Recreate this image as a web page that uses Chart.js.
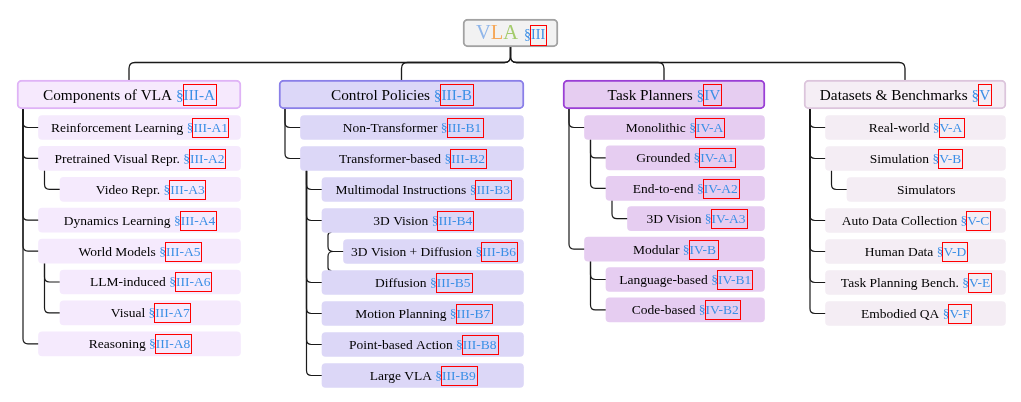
<!DOCTYPE html>
<html>
<head>
<meta charset="utf-8">
<script src="https://cdn.jsdelivr.net/npm/chart.js@4.4.1/dist/chart.umd.min.js"></script>
<style>
  html, body { margin: 0; padding: 0; background: #fff; }
  #wrap { width: 1021px; height: 402px; position: relative; }
</style>
</head>
<body>
<div id="wrap"><canvas id="taxonomy"></canvas></div>
<script>
// tree content
const rootLetters = ['V', 'L', 'A'];
const rootRef = 'III';

const branchLabels = ['Components of VLA', 'Control Policies', 'Task Planners', 'Datasets & Benchmarks'];
const branchRefs = ['III-A', 'III-B', 'IV', 'V'];

const componentLabels = ['Reinforcement Learning', 'Pretrained Visual Repr.', 'Video Repr.', 'Dynamics Learning',
  'World Models', 'LLM-induced', 'Visual', 'Reasoning'];
const componentRefs = ['III-A1', 'III-A2', 'III-A3', 'III-A4', 'III-A5', 'III-A6', 'III-A7', 'III-A8'];
const componentDepths = [1, 1, 2, 1, 1, 2, 2, 1];

const policyLabels = ['Non-Transformer', 'Transformer-based', 'Multimodal Instructions', '3D Vision',
  '3D Vision + Diffusion', 'Diffusion', 'Motion Planning', 'Point-based Action', 'Large VLA'];
const policyRefs = ['III-B1', 'III-B2', 'III-B3', 'III-B4', 'III-B6', 'III-B5', 'III-B7', 'III-B8', 'III-B9'];
const policyDepths = [1, 1, 2, 2, 3, 2, 2, 2, 2];

const plannerLabels = ['Monolithic', 'Grounded', 'End-to-end', '3D Vision', 'Modular', 'Language-based', 'Code-based'];
const plannerRefs = ['IV-A', 'IV-A1', 'IV-A2', 'IV-A3', 'IV-B', 'IV-B1', 'IV-B2'];
const plannerDepths = [1, 2, 2, 3, 1, 2, 2];

const datasetLabels = ['Real-world', 'Simulation', 'Simulators', 'Auto Data Collection', 'Human Data',
  'Task Planning Bench.', 'Embodied QA'];
const datasetRefs = ['V-A', 'V-B', '', 'V-C', 'V-D', 'V-E', 'V-F'];
const datasetDepths = [1, 1, 2, 1, 1, 1, 1];

// nodes that hang off both the node above and the node below (brace)
const braceNodes = [[], [4], [], []];

const columns = [
  { labels: componentLabels, refs: componentRefs, depths: componentDepths },
  { labels: policyLabels, refs: policyRefs, depths: policyDepths },
  { labels: plannerLabels, refs: plannerRefs, depths: plannerDepths },
  { labels: datasetLabels, refs: datasetRefs, depths: datasetDepths }
];

// layout
const columnLeft = [17, 279, 563, 804];
const columnRight = [241, 524, 765, 1006];
const rowPitch = [30.9, 31, 30.4, 31];
const rootSpan = [463, 558];
const rootY = 33;
const busY = 62.5;
const branchY = 94.5;
const firstRowY = 127.5;
const indent = 21.5;

// styles
const rootLetterColors = ['#8fb6ea', '#f5a85a', '#a3cb6b'];
const branchFill = ['#f6e9fd', '#dcd7f8', '#e6cdf1', '#f5eef5'];
const branchBorder = ['#dfb3f6', '#8a7fe8', '#9a3fd5', '#dcc5dc'];
const childFill = ['#f5eafd', '#dcd7f7', '#e6cdf1', '#f4edf4'];
const refColor = '#3b8fe6';
const textColor = '#000';
const lineColor = '#1a1a1a';
const serif = '"Liberation Serif", "DejaVu Serif", serif';

const boxOf = (chart, datasetIndex, index) => {
  const bar = chart.getDatasetMeta(datasetIndex).data[index];
  const { x, y, base, height } = bar.getProps(['x', 'y', 'base', 'height'], true);
  return {
    left: Math.min(x, base),
    right: Math.max(x, base),
    top: y - height / 2,
    bottom: y + height / 2,
    cx: (x + base) / 2,
    cy: y
  };
};

const drawLabel = (ctx, text, ref, cx, cy, size) => {
  ctx.font = `${size}px ${serif}`;
  const main = ref ? text + ' ' : text;
  const wMain = ctx.measureText(main).width;
  const wSec = ref ? ctx.measureText('§').width : 0;
  const wRef = ref ? ctx.measureText(ref).width : 0;
  let x = cx - (wMain + wSec + wRef) / 2;
  const baseline = cy + size * 0.33;

  ctx.fillStyle = textColor;
  ctx.fillText(main, x, baseline);
  x += wMain;
  if (!ref) return;
  ctx.fillStyle = refColor;
  ctx.fillText('§', x, baseline);
  x += wSec;
  ctx.fillText(ref, x, baseline);
  ctx.strokeStyle = '#ff0000';
  ctx.lineWidth = 1;
  ctx.strokeRect(Math.round(x - 1) + 0.5, Math.round(baseline - size * 1.04) + 0.5, Math.round(wRef + 2), Math.round(size * 1.4));
};

const treePlugin = {
  id: 'tree',
  beforeDatasetsDraw(chart) {
    const ctx = chart.ctx;
    const yScale = chart.scales.y;
    const root = boxOf(chart, 0, 0);
    const bus = yScale.getPixelForValue(busY);

    ctx.save();
    ctx.strokeStyle = lineColor;
    ctx.lineCap = 'round';
    ctx.lineJoin = 'round';

    // root -> branches
    ctx.lineWidth = 1.3;
    branchLabels.forEach((_, c) => {
      const b = boxOf(chart, 1, c);
      const dir = Math.sign(b.cx - root.cx);
      const r = 6;
      ctx.beginPath();
      ctx.moveTo(root.cx, root.bottom);
      ctx.lineTo(root.cx, bus - r);
      ctx.quadraticCurveTo(root.cx, bus, root.cx + dir * r, bus);
      ctx.lineTo(b.cx - dir * r, bus);
      ctx.quadraticCurveTo(b.cx, bus, b.cx, bus + r);
      ctx.lineTo(b.cx, b.top);
      ctx.stroke();
    });

    // branches -> children
    ctx.lineWidth = 1.2;
    columns.forEach((col, c) => {
      const ds = 2 + c;
      col.depths.forEach((depth, i) => {
        const child = boxOf(chart, ds, i);
        const r = 5;
        if (braceNodes[c].includes(i)) {
          const above = boxOf(chart, ds, i - 1);
          const below = boxOf(chart, ds, i + 1);
          const px = above.left + 6;
          ctx.beginPath();
          ctx.moveTo(px + 3, above.bottom);
          ctx.quadraticCurveTo(px, above.bottom, px, above.bottom + 3);
          ctx.lineTo(px, child.cy - r);
          ctx.quadraticCurveTo(px, child.cy, px + r, child.cy);
          ctx.lineTo(child.left, child.cy);
          ctx.moveTo(px + 3, below.top);
          ctx.quadraticCurveTo(px, below.top, px, below.top - 3);
          ctx.lineTo(px, child.cy + r);
          ctx.quadraticCurveTo(px, child.cy, px + r, child.cy);
          ctx.stroke();
          return;
        }
        let parent = null;
        if (depth === 1) {
          parent = boxOf(chart, 1, c);
        } else {
          for (let j = i - 1; j >= 0; j--) {
            if (col.depths[j] === depth - 1) { parent = boxOf(chart, ds, j); break; }
          }
        }
        const px = parent.left + 6;
        ctx.beginPath();
        ctx.moveTo(px, parent.bottom);
        ctx.lineTo(px, child.cy - r);
        ctx.quadraticCurveTo(px, child.cy, px + r, child.cy);
        ctx.lineTo(child.left, child.cy);
        ctx.stroke();
      });
    });
    ctx.restore();
  },
  afterDatasetsDraw(chart) {
    const ctx = chart.ctx;
    ctx.save();
    ctx.textAlign = 'left';
    ctx.textBaseline = 'alphabetic';

    // root title with coloured letters
    const root = boxOf(chart, 0, 0);
    const bigSize = 20.5, smallSize = 14;
    ctx.font = `${bigSize}px ${serif}`;
    const letterWidths = rootLetters.map(l => ctx.measureText(l).width);
    const gap = 6;
    ctx.font = `${smallSize}px ${serif}`;
    const wSec = ctx.measureText('§').width;
    const wRef = ctx.measureText(rootRef).width;
    const total = letterWidths.reduce((a, b) => a + b, 0) + gap + wSec + wRef;
    let x = root.cx - total / 2;
    const baseline = root.cy + 5.5;
    ctx.font = `${bigSize}px ${serif}`;
    rootLetters.forEach((l, k) => {
      ctx.fillStyle = rootLetterColors[k];
      ctx.fillText(l, x, baseline);
      x += letterWidths[k];
    });
    x += gap;
    ctx.font = `${smallSize}px ${serif}`;
    ctx.fillStyle = refColor;
    ctx.fillText('§', x, baseline);
    x += wSec;
    ctx.fillText(rootRef, x, baseline);
    ctx.strokeStyle = '#ff0000';
    ctx.lineWidth = 1;
    ctx.strokeRect(Math.round(x - 1) + 0.5, Math.round(baseline - 14) + 0.5, Math.round(wRef + 2), 20);

    branchLabels.forEach((label, c) => {
      const b = boxOf(chart, 1, c);
      drawLabel(ctx, label, branchRefs[c], b.cx, b.cy, 15.3);
    });

    columns.forEach((col, c) => {
      col.labels.forEach((label, i) => {
        const b = boxOf(chart, 2 + c, i);
        drawLabel(ctx, label, col.refs[i], b.cx, b.cy, 13.5);
      });
    });
    ctx.restore();
  }
};

const barDefaults = { borderSkipped: false, grouped: false };

const datasets = [
  {
    ...barDefaults,
    label: 'VLA',
    data: [{ x: rootSpan, y: rootY }],
    backgroundColor: '#f2f2f2',
    borderColor: '#a2a2a2',
    borderWidth: 2,
    barThickness: 28,
    borderRadius: 5
  },
  {
    ...barDefaults,
    label: 'branches',
    data: branchLabels.map((_, c) => ({ x: [columnLeft[c], columnRight[c]], y: branchY })),
    backgroundColor: branchFill,
    borderColor: branchBorder,
    borderWidth: 2,
    barThickness: 29,
    borderRadius: 5
  },
  ...columns.map((col, c) => ({
    ...barDefaults,
    label: branchLabels[c],
    data: col.labels.map((_, i) => ({
      x: [columnLeft[c] + indent * col.depths[i], columnRight[c] - 0.5],
      y: firstRowY + i * rowPitch[c]
    })),
    backgroundColor: childFill[c],
    borderWidth: 0,
    barThickness: 24,
    borderRadius: 4
  }))
];

new Chart(document.getElementById('taxonomy'), {
  type: 'bar',
  data: { datasets },
  options: {
    indexAxis: 'y',
    animation: false,
    responsive: true,
    maintainAspectRatio: false,
    layout: { padding: 0 },
    plugins: {
      legend: { display: false },
      tooltip: { enabled: false }
    },
    scales: {
      x: { type: 'linear', min: 0, max: 1021, display: false, offset: false },
      y: { type: 'linear', min: 0, max: 402, reverse: true, display: false, offset: false }
    }
  },
  plugins: [treePlugin]
});
</script>
</body>
</html>
